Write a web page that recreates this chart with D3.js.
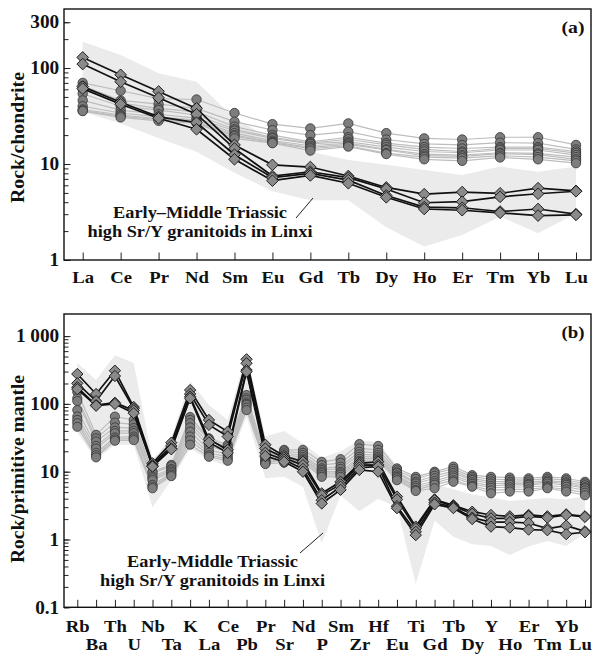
<!DOCTYPE html>
<html><head><meta charset="utf-8">
<script src="https://cdn.jsdelivr.net/npm/d3@7"></script>
<style>
body{margin:0;background:#fff}
svg{display:block}
text{font-family:"Liberation Serif","Times New Roman",serif;font-weight:bold;fill:#111}
</style>
</head><body>
<svg id="chart" width="593" height="657"></svg>
<script>
// ---------- Panel (a): chondrite-normalised REE ----------
const reeElements = ["La","Ce","Pr","Nd","Sm","Eu","Gd","Tb","Dy","Ho","Er","Tm","Yb","Lu"];
// grey circle samples, one row per element (values for 9 samples)
const reeGreyByElement = [
  [70,65,60,54,46,40,37,36,35.6],
  [58,46,43,40,36.5,34,32.4,31.5,30.6],
  [48,42,38,36.5,33,31,29.5,29,28.2],
  [47,38,35,32.4,30,28.7,27.5,27,26.5],
  [34,27.6,24.5,23,22.2,21,20,19.5,18.5],
  [26,22.6,20,19,18.5,17.5,17,16.7,16.5],
  [23.5,20,17,16.5,16.2,15.5,14.9,14.5,13.8],
  [26.5,21.7,19,18.1,17.1,16.5,16,15.5,15.2],
  [21,18,16.5,15.8,15,14.2,14,13,12.7],
  [18.5,16.2,15,14.2,13.5,12.7,12.2,11.8,11.2],
  [18,15.8,14.5,13.5,13.1,12.4,12,11.5,10.8],
  [19,16.7,15,14.5,14,13.1,12.8,12.2,11.7],
  [19,16.5,15,14.5,14,12.9,12.5,11.8,11.2],
  [15.8,14.2,13.5,13,12.4,11.8,11.2,10.8,10.2]
];
// black diamond samples
const reeBlackSamples = [
  [129,85,57,38,15.8,9.8,9.3,7.5,5.7,4.85,5.1,4.95,5.6,5.25],
  [110,72,49,33,14.5,7.5,8.3,7.2,5.5,3.95,4.05,4.55,4.9,5.2],
  [64,44,31,27,12.5,7.2,8.0,6.8,4.7,3.55,3.5,3.2,3.4,3.0],
  [61,42,30,23,11.2,6.7,7.6,6.3,4.5,3.4,3.3,3.1,2.9,2.95]
];
const reeFieldUpper = [188,137,88,72,30,18,13.4,11,9.8,8.66,7.7,9.4,8.3,9.4];
const reeFieldLower = [35,26.5,18.5,13.4,8.1,5.2,4.2,4.2,2.2,1.38,1.82,2.83,1.9,3.06];
const reeTickValues = [1,10,100,300];

// ---------- Panel (b): primitive-mantle-normalised trace elements ----------
const traceElements = ["Rb","Ba","Th","U","Nb","Ta","K","La","Ce","Pb","Pr","Sr","Nd","P","Sm","Zr","Hf","Eu","Ti","Gd","Tb","Dy","Y","Ho","Er","Tm","Yb","Lu"];
const traceGreyByElement = [
  [150,121,110,81,65,58,52,46],
  [35,31,28,24,22,19,17.5,16.3],
  [65,53,45,40,37,32,30,28.6],
  [58,50,44,40,37,33,31,29.3],
  [10,9.5,8.5,8,7.5,6.4,6,5.7],
  [12.6,12,11,10.5,10,9.5,9,8.6],
  [64,58,52,45,39,33,29,25],
  [31,29,26,24,21,19,17.5,16.6],
  [25,23,21,19.7,18,16.5,15.5,14.5],
  [135,121,114,105,100,96,88,81],
  [17,16,15,14.5,14,13.5,13.3,13],
  [21,20,18.7,17.5,16.5,15.7,14.9,13.6],
  [21,19,17.6,16.5,15.5,14.9,14.2,13.5],
  [14,12.5,11.2,10.6,10,9.5,8.9,8.4],
  [15.3,13.5,11.9,11,10,9.5,9,8.4],
  [25.6,22,19.7,18,16.6,15.5,14.5,14],
  [24,21,19,17.6,16.5,15.7,15,14.5],
  [11.2,10.5,9.8,9.5,8.8,8.4,8,7.5],
  [8.4,7.8,7.1,6.7,6.2,5.8,5.4,5.2],
  [10,9.5,8.7,8,7.3,6.8,6.4,5.7],
  [11.9,11,10.2,9.5,8.8,8.2,7.5,7.1],
  [8.9,8.4,7.9,7.5,7,6.6,6.2,6],
  [8.4,7.8,7.2,6.7,6.2,5.8,5.3,4.8],
  [8.2,7.6,7.1,6.7,6.4,5.9,5.5,5.1],
  [8,7.5,7,6.6,6.4,6,5.5,5.1],
  [8.4,7.9,7.4,7.1,6.7,6.2,5.9,5.7],
  [8,7.5,7,6.7,6.4,6,5.5,5.1],
  [7.1,6.7,6.3,5.9,5.7,5.3,4.9,4.5]
];
const traceBlackSamples = [
  [276,140,309,90,13.3,26.8,160,58,39,455,25,17,14,4.8,7.1,13.3,14,4.3,1.55,3.9,3.2,2.57,2.3,2.2,2.3,2.2,2.35,2.2],
  [201,110,258,85,12.5,24,140,49,33,397,22,16,12.5,4.5,6.5,12.5,12.6,3.9,1.45,3.8,3.1,2.4,2.05,2.05,2.2,2.1,2.3,2.15],
  [176,96,104,80,12,22,128,30,21,316,19,15,11,3.8,6,11.5,11.9,3.1,1.3,3.5,3.0,2.1,1.8,1.8,1.75,1.45,1.6,1.32],
  [165,94,100,73,11.9,21.4,121,27,19,299,17,14,10,3.4,5.4,10.6,10,2.9,1.16,3.3,2.9,2.0,1.55,1.5,1.4,1.37,1.2,1.28]
];
const traceFieldUpper = [400,225,520,400,15,32,215,96,58,560,33,40,26,16,20,29,27.5,12,5.5,6.5,5.5,4.6,4.2,3.7,3.9,4.1,3.9,4.4];
const traceFieldLower = [38,15,25,25,3.0,7.5,22,15,12,65,8,8.4,6,0.88,4.5,2.6,4,3,0.22,1.9,1.1,0.85,0.8,0.59,0.79,0.95,0.8,1.23];
const traceTickValues = [0.1,1,10,100,1000];
const traceTickLabels = ["0.1","1","10","100","1 000"];

const svg = d3.select("#chart");

function drawPanel(o) {
  const g = svg.append("g");
  const x = d3.scalePoint().domain(o.elements).range(o.xRange);
  const y = d3.scaleLog().domain(o.yDomain).range([o.bottom, o.top]);
  const idx = o.elements.map((e, i) => i);

  // field
  const area = d3.area()
    .x(i => x(o.elements[i]))
    .y0(i => y(o.lower[i]))
    .y1(i => y(o.upper[i]));
  g.append("path").attr("d", area(idx)).attr("fill", "#ebebeb");

  const line = d3.line().x((v, i) => x(o.elements[i])).y(v => y(v));
  const grey = d3.transpose(o.greyByElement);

  g.selectAll(".gl").data(grey).join("path")
    .attr("d", line).attr("fill", "none").attr("stroke", "#bdbdbd").attr("stroke-width", 1.2);
  grey.forEach(s => {
    g.selectAll(null).data(s).join("circle")
      .attr("cx", (v, i) => x(o.elements[i])).attr("cy", v => y(v))
      .attr("r", o.r).attr("fill", "#7d7d7d").attr("stroke", "#333").attr("stroke-width", 0.8);
  });

  g.selectAll(".bl").data(o.black).join("path")
    .attr("d", line).attr("fill", "none").attr("stroke", "#111").attr("stroke-width", 1.7);
  const sym = d3.symbol(d3.symbolSquare, o.dsize)();
  o.black.forEach(s => {
    g.selectAll(null).data(s).join("path")
      .attr("d", sym)
      .attr("transform", (v, i) => `translate(${x(o.elements[i])},${y(v)}) rotate(45)`)
      .attr("fill", "#8a8a8a").attr("stroke", "#1a1a1a").attr("stroke-width", 0.9);
  });

  // axes
  const yMinor = [];
  for (let d = Math.log10(o.yDomain[0]); d < 4; d++) {
    for (let k = 1; k <= 9; k++) {
      const v = k * Math.pow(10, d);
      if (v >= o.yDomain[0] * 0.999 && v <= o.yMax * 1.0001) yMinor.push(v);
    }
  }
  g.append("g").attr("transform", `translate(${o.left},0)`)
    .call(d3.axisLeft(y).tickValues(yMinor).tickSize(-4.5).tickFormat(""))
    .call(a => { a.select(".domain").remove(); a.selectAll("line").attr("stroke", "#222"); });
  g.append("g").attr("transform", `translate(${o.left},0)`)
    .call(d3.axisLeft(y).tickValues(o.yTicks).tickSize(-6.5).tickPadding(4.5)
      .tickFormat((d, i) => o.yLabels[i]))
    .call(a => {
      a.select(".domain").remove();
      a.selectAll("line").attr("stroke", "#222");
      a.selectAll("text").attr("font-size", 18).attr("font-family", null).attr("fill", "#111")
        .attr("transform", "scale(1.07,1)");
    });

  const xa = g.append("g").attr("transform", `translate(0,${o.bottom})`)
    .call(d3.axisBottom(x).tickSize(-7.5).tickPadding(o.xPad))
    .call(a => {
      a.select(".domain").remove();
      a.selectAll("line").attr("stroke", "#222");
      a.selectAll("text").attr("font-size", 17).attr("font-family", null).attr("fill", "#111")
        .attr("transform", "scale(1.1,1)");
    });
  if (o.twoRows) {
    xa.selectAll("text").attr("dy", (d, i) => i % 2 ? "1.8em" : "0.71em");
    xa.selectAll("text").filter((d, i, n) => i === n.length - 1).attr("x", -4.5);
  }

  // frame
  g.append("rect").attr("x", o.left).attr("y", o.top)
    .attr("width", o.right - o.left).attr("height", o.bottom - o.top)
    .attr("fill", "none").attr("stroke", "#111").attr("stroke-width", 1.4);

  // panel label
  g.append("text").attr("x", o.right - 29.5).attr("y", o.top + 24)
    .attr("font-size", 17).attr("textLength", 23).attr("lengthAdjust", "spacingAndGlyphs")
    .text(o.label);

  // y title
  g.append("text")
    .attr("transform", `translate(${o.titleX},${o.titleY}) rotate(-90)`)
    .attr("text-anchor", "middle").attr("font-size", 19.5)
    .attr("textLength", o.titleLen).attr("lengthAdjust", "spacingAndGlyphs")
    .text(o.yTitle);

  // annotation
  g.append("text").attr("x", o.noteX - o.noteLen1 / 2).attr("y", o.noteY)
    .attr("font-size", 17.5).attr("textLength", o.noteLen1).attr("lengthAdjust", "spacingAndGlyphs")
    .text(o.note1);
  g.append("text").attr("x", o.noteX - o.noteLen2 / 2).attr("y", o.noteY + 19)
    .attr("font-size", 17.5).attr("textLength", o.noteLen2).attr("lengthAdjust", "spacingAndGlyphs")
    .text(o.note2);
  g.append("line").attr("x1", o.leader[0]).attr("y1", o.leader[1])
    .attr("x2", o.leader[2]).attr("y2", o.leader[3])
    .attr("stroke", "#222").attr("stroke-width", 1);
}

drawPanel({
  elements: reeElements, xRange: [82.7, 576],
  left: 64, right: 591, top: 9, bottom: 260,
  yDomain: [1, 412], yMax: 300,
  yTicks: reeTickValues, yLabels: reeTickValues.map(String),
  greyByElement: reeGreyByElement, black: reeBlackSamples,
  upper: reeFieldUpper, lower: reeFieldLower,
  r: 4.7, dsize: 68, xPad: 11, twoRows: false,
  label: "(a)", yTitle: "Rock/chondrite", titleX: 24, titleY: 137.5, titleLen: 131,
  note1: "Early\u2013Middle Triassic", note2: "high Sr/Y granitoids in Linxi",
  noteX: 200, noteY: 218, noteLen1: 174, noteLen2: 225, leader: [313, 198, 296, 218]
});

drawPanel({
  elements: traceElements, xRange: [77.3, 585],
  left: 64, right: 591, top: 314, bottom: 607.3,
  yDomain: [0.1, 2118], yMax: 1000,
  yTicks: traceTickValues, yLabels: traceTickLabels,
  greyByElement: traceGreyByElement, black: traceBlackSamples,
  upper: traceFieldUpper, lower: traceFieldLower,
  r: 4.6, dsize: 64, xPad: 12.4, twoRows: true,
  label: "(b)", yTitle: "Rock/primitive mantle", titleX: 24, titleY: 469, titleLen: 188,
  note1: "Early-Middle Triassic", note2: "high Sr/Y granitoids in Linxi",
  noteX: 212.5, noteY: 566.5, noteLen1: 171, noteLen2: 225, leader: [323, 533, 300, 553]
});
</script>
</body></html>
